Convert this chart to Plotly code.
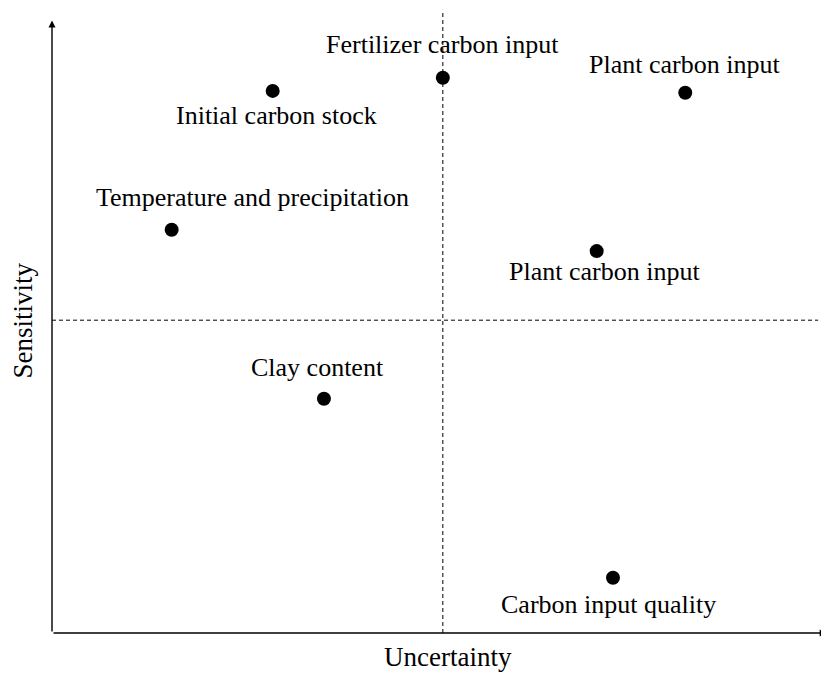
import plotly.graph_objects as go

# Data (arbitrary units, 0-10 on both axes)
labels = ["Initial carbon stock", "Fertilizer carbon input", "Plant carbon input",
          "Temperature and precipitation", "Plant carbon input", "Clay content",
          "Carbon input quality"]
uncertainty = [2.84, 5.03, 8.15, 1.54, 7.01, 3.50, 7.22]
sensitivity = [8.63, 8.84, 8.60, 6.42, 6.08, 3.73, 0.88]
x_split = 5.03
y_split = 4.98

# label offsets in pixels (style)
label_dx = [4, 0, -1, 81, 8, -6, -4]
label_dy = [-25, 33, 28, 32, -20, 31, -27]

FONT = "Liberation Serif, Times New Roman, serif"

fig = go.Figure()
fig.add_trace(go.Scatter(x=uncertainty, y=sensitivity, mode="markers",
                         marker=dict(size=14, color="black"),
                         hoverinfo="text", text=labels, showlegend=False,
                         cliponaxis=False))

for lab, xv, yv, dx, dy in zip(labels, uncertainty, sensitivity, label_dx, label_dy):
    fig.add_annotation(x=xv, y=yv, text=lab, showarrow=False, xshift=dx, yshift=dy,
                       font=dict(family=FONT, size=26, color="black"),
                       xanchor="center", yanchor="middle")

# dashed quadrant lines
fig.add_shape(type="line", x0=x_split, x1=x_split, y0=0, y1=9.92,
              line=dict(color="black", width=1, dash="4px,3px"), layer="below")
fig.add_shape(type="line", x0=0, x1=9.86, y0=y_split, y1=y_split,
              line=dict(color="black", width=1, dash="4px,3px"), layer="below")

# axes with arrows
fig.add_annotation(x=0, y=9.75, ax=0, ay=0, xref="x", yref="y", axref="x", ayref="y",
                   showarrow=True, arrowhead=2, arrowsize=1, arrowwidth=1.4,
                   arrowcolor="black", text="")
fig.add_annotation(x=9.97, y=0, ax=0, ay=0, xref="x", yref="y", axref="x", ayref="y",
                   showarrow=True, arrowhead=2, arrowsize=1, arrowwidth=1.4,
                   arrowcolor="black", text="")

# axis titles
fig.add_annotation(x=0.5, y=0, xref="paper", yref="paper", text="Uncertainty",
                   showarrow=False, yshift=-24, xshift=7,
                   font=dict(family=FONT, size=27, color="black"), yanchor="middle")
fig.add_annotation(x=0, y=0.5, xref="paper", yref="paper", text="Sensitivity",
                   showarrow=False, xshift=-30, yshift=0, textangle=-90,
                   font=dict(family=FONT, size=27, color="black"), xanchor="center")

fig.update_xaxes(range=[0, 10], showgrid=False, zeroline=False, showticklabels=False,
                 showline=False, ticks="")
fig.update_yaxes(range=[0, 9.95], showgrid=False, zeroline=False, showticklabels=False,
                 showline=False, ticks="")
fig.update_layout(width=821, height=665, margin=dict(l=44, r=0, t=0, b=40),
                  plot_bgcolor="white", paper_bgcolor="white", showlegend=False)

fig.write_html("out.html")
